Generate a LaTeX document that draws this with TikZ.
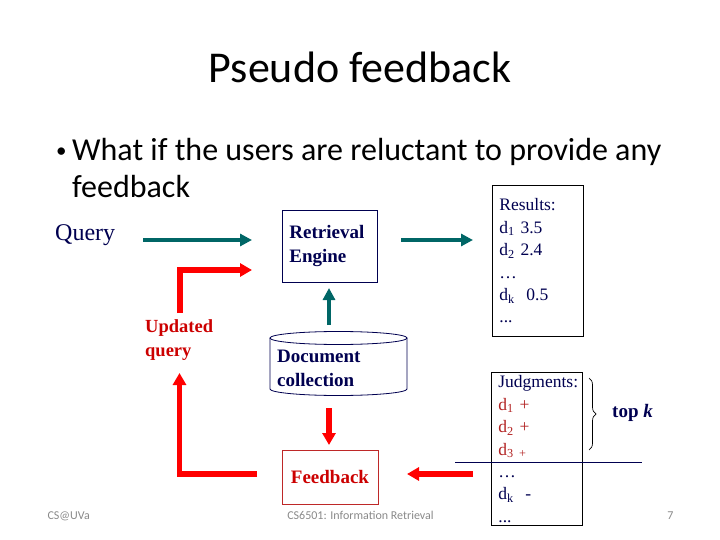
\documentclass[tikz,border=0pt]{standalone}
\usepackage{fontspec}
\setmainfont{Liberation Serif}
\newfontfamily\calib{Carlito}
\usetikzlibrary{arrows.meta,decorations.pathreplacing}
\definecolor{tealc}{RGB}{0,102,102}
\definecolor{navy}{RGB}{0,0,80}
\definecolor{dred}{RGB}{204,0,0}
\definecolor{jred}{RGB}{178,34,34}
\definecolor{fbox}{RGB}{190,40,40}
\definecolor{foot}{RGB}{137,137,137}
\begin{document}
\begin{tikzpicture}[x=1pt,y=-1pt,
  tarrow/.style={draw=tealc, line width=4.5pt, -{Triangle[length=12pt,width=12pt]}},
  rarrow/.style={draw=red, line width=5.5pt, -{Triangle[length=12pt,width=13pt]}},
  boldblue/.style={font=\bfseries\fontsize{19}{24}\selectfont, text=navy, align=left},
  listbox/.style={draw=black, line width=0.8pt, anchor=north west, inner xsep=7pt,
     text width=77pt, minimum height=150pt, align=left,
     font=\fontsize{17.5}{22.4}\selectfont, text=navy},
  bodytext/.style={anchor=base west, inner sep=0pt, font=\calib\fontsize{32}{38}\selectfont},
  footer/.style={font=\calib\fontsize{12}{14}\selectfont, text=foot, anchor=base}]
\useasboundingbox (0,0) rectangle (720,540);

% title and bullet
\node (title) [anchor=base, font=\calib\fontsize{44}{53}\selectfont] at (360,83) {Pseudo feedback};
\node (bullet) [bodytext, font=\calib\fontsize{21}{26}\selectfont] at (56,158) {•};
\node (line1) [bodytext] at (72,161) {What if the users are reluctant to provide any};
\node (line2) [bodytext] at (72,198) {feedback};

% query
\node (query) [anchor=west, inner sep=0pt, text=navy, font=\fontsize{24}{28}\selectfont] at (55,235) {Query};

% retrieval engine
\node (engine) [draw=navy, line width=0.8pt, anchor=north west, minimum width=95pt, minimum height=72pt,
   text width=81pt, inner xsep=7pt, boldblue] at (282,210) {Retrieval\\Engine};

% results
\node (results) [listbox, minimum height=151pt] at (492,185)
  {Results:\\d\textsubscript{1} 3.5\\d\textsubscript{2} 2.4\\…\\d\textsubscript{k}\ \ 0.5\\...};

% document collection cylinder
\node (doc) [minimum width=137pt, minimum height=64pt, inner sep=0pt] at (338.5,363.5) {};
\fill[white] (270,338) -- (270,389) arc[start angle=180, end angle=360, x radius=68.5pt, y radius=6.5pt] -- (407,338) -- cycle;
\draw[line width=0.8pt, draw=navy] (338.5,338) ellipse[x radius=68.5pt, y radius=6.5pt];
\draw[line width=0.8pt, draw=navy] (270,338) -- (270,389) arc[start angle=180, end angle=360, x radius=68.5pt, y radius=6.5pt] -- (407,338);
\node (doctext) [anchor=west, inner sep=0pt, boldblue] at (277,368) {Document\\collection};

% feedback
\node (feedback) [draw=fbox, line width=0.8pt, fill=white, minimum width=96pt, minimum height=54pt,
   text=dred, font=\bfseries\fontsize{19}{24}\selectfont] at (330,477) {Feedback};

% updated query
\node (updated) [anchor=west, inner sep=0pt, text=dred, align=left,
   font=\bfseries\fontsize{18.5}{24}\selectfont] at (145,340) {Updated\\query};

% judgments
\node (judg) [listbox] at (491,372)
  {Judgments:\\\textcolor{jred}{d\textsubscript{1} +}\\\textcolor{jred}{d\textsubscript{2} +}\\\textcolor{jred}{d\textsubscript{3 +}}\\…\\d\textsubscript{k}\ \ -\\...};

% top k
\coordinate (brA) at (589,378);
\coordinate (brB) at (589,450);
\draw[line width=0.7pt, decorate, decoration={brace, amplitude=7pt}] (brA) -- (brB);
\node (topk) [anchor=west, inner sep=0pt, text=navy, font=\bfseries\fontsize{19}{24}\selectfont] at (612,413) {top \textit{k}};

% cut line
\coordinate (cutA) at (455,462);
\coordinate (cutB) at (642,462);
\draw[line width=0.8pt, draw=navy] (cutA) -- (cutB);

% arrows
\coordinate (q1) at (143,240);
\coordinate (q2) at (252,240);
\draw[tarrow] (q1) -- (q2);
\coordinate (r1) at (401,240);
\coordinate (r2) at (473,240);
\draw[tarrow] (r1) -- (r2);
\coordinate (u1) at (329,325);
\coordinate (u2) at (329,288);
\draw[tarrow] (u1) -- (u2);

\coordinate (d1) at (329,408);
\coordinate (d2) at (329,445);
\draw[rarrow] (d1) -- (d2);
\coordinate (f1) at (473,474);
\coordinate (f2) at (407,474);
\draw[rarrow] (f1) -- (f2);
\coordinate (l1) at (257,474);
\coordinate (l2) at (179.5,474);
\coordinate (l3) at (179.5,373);
\draw[rarrow] (l1) -- (l2) -- (l3);
\coordinate (m1) at (180,313);
\coordinate (m2) at (180,270);
\coordinate (m3) at (252,270);
\draw[rarrow] (m1) -- (m2) -- (m3);

% footer
\node (foot1) [footer, anchor=base west] at (44,519) {CS@UVa};
\node (foot2) [footer] at (360.5,519) {CS6501: Information Retrieval};
\node (foot3) [footer, anchor=base east] at (677,519) {7};
\end{tikzpicture}
\end{document}
